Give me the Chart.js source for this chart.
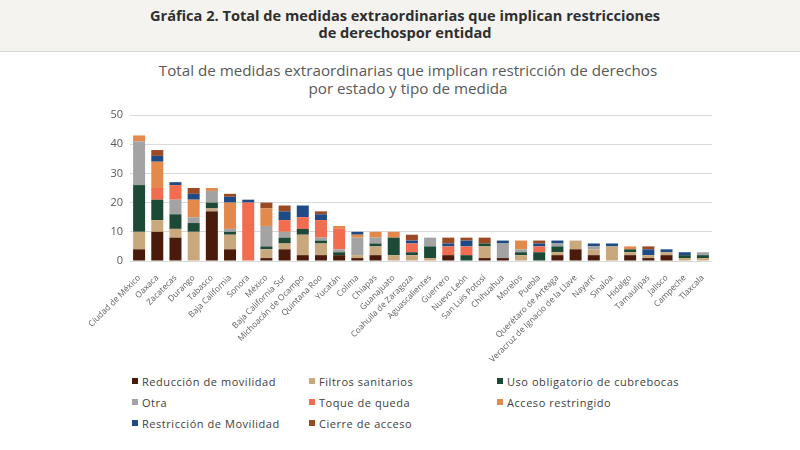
<!DOCTYPE html>
<html lang="es">
<head>
<meta charset="utf-8">
<title>Medidas extraordinarias por entidad</title>
<script src="https://cdn.jsdelivr.net/npm/chart.js@4.4.1/dist/chart.umd.min.js"></script>
<style>
    body {
        margin: 0;
        width: 800px;
        height: 450px;
        overflow: hidden;
        background: #ffffff;
        font-family: "Open Sans", "DejaVu Sans", sans-serif;
        position: relative;
    }
    #header {
        position: absolute;
        left: 0; top: 0;
        width: 800px; height: 52px;
        background: #f4f3ef;
        border-bottom: 1px solid #d6d6d6;
        text-align: center;
        font-weight: bold;
        font-size: 14.6px;
        line-height: 17px;
        color: #2f2f2f;
        padding-top: 7px;
        padding-left: 10px;
        box-sizing: border-box;
    }
    #chartTitle {
        position: absolute;
        left: 0; top: 61px;
        width: 816px;
        text-align: center;
        font-size: 15.2px;
        line-height: 18px;
        color: #595959;
    }
    #chartBox {
        position: absolute;
        left: 0; top: 0;
        width: 800px; height: 370px;
    }
    #legend {
        position: absolute;
        left: 132px; top: 373px;
        display: grid;
        grid-template-columns: 177px 188px 200px;
        row-gap: 5px;
        font-size: 11px;
        letter-spacing: 0.55px;
        color: #404040;
    }
    .legend-item { display: flex; align-items: center; height: 16px; white-space: nowrap; }
    .legend-item span.box { width: 6px; height: 6px; margin-right: 4px; display: inline-block; }
</style>
</head>
<body>
<div id="header">Gráfica 2. Total de medidas extraordinarias que implican restricciones<br>de derechospor entidad</div>
<div id="chartTitle">Total de medidas extraordinarias que implican restricción de derechos<br>por estado y tipo de medida</div>
<div id="chartBox"><canvas id="medidasChart" width="800" height="370"></canvas></div>
<div id="legend"></div>

<script>
// Entidades (orden del eje X)
const estados = [
    'Ciudad de México', 'Oaxaca', 'Zacatecas', 'Durango', 'Tabasco', 'Baja California',
    'Sonora', 'México', 'Baja California Sur', 'Michoacán de Ocampo', 'Quintana Roo',
    'Yucatán', 'Colima', 'Chiapas', 'Guanajuato', 'Coahuila de Zaragoza', 'Aguascalientes',
    'Guerrero', 'Nuevo León', 'San Luis Potosí', 'Chihuahua', 'Morelos', 'Puebla',
    'Querétaro de Arteaga', 'Veracruz de Ignacio de la Llave', 'Nayarit', 'Sinaloa',
    'Hidalgo', 'Tamaulipas', 'Jalisco', 'Campeche', 'Tlaxcala'
];

// Valores por tipo de medida
const reduccionMovilidad = [4, 10, 8, 0, 17, 4, 0, 1, 4, 2, 2, 2, 1, 2, 0, 0, 0, 2, 0, 1, 1, 0, 0, 2, 4, 2, 0, 2, 1, 2, 0, 0];
const filtrosSanitarios  = [6, 4, 3, 10, 1, 5, 0, 3, 2, 7, 4, 0, 1, 3, 2, 2, 1, 0, 0, 4, 0, 2, 0, 1, 3, 2, 5, 1, 1, 1, 1, 1];
const usoCubrebocas      = [16, 7, 5, 3, 2, 1, 0, 1, 2, 2, 1, 1, 0, 1, 6, 1, 4, 0, 2, 1, 0, 1, 3, 2, 0, 0, 0, 1, 0, 0, 1, 1];
const otra               = [15, 0, 5, 2, 4, 1, 0, 7, 2, 0, 1, 1, 6, 2, 0, 0, 3, 0, 0, 0, 5, 1, 0, 1, 0, 1, 0, 0, 0, 0, 0, 1];
const toqueDeQueda       = [0, 4, 5, 0, 0, 0, 20, 0, 4, 4, 6, 7, 0, 0, 0, 3, 0, 3, 3, 0, 0, 0, 2, 0, 0, 0, 0, 0, 0, 0, 0, 0];
const accesoRestringido  = [2, 9, 0, 6, 1, 9, 0, 6, 0, 0, 0, 1, 1, 2, 2, 0, 0, 0, 0, 0, 0, 3, 0, 0, 0, 0, 0, 1, 0, 0, 0, 0];
const restriccionMov     = [0, 2, 1, 2, 0, 2, 1, 0, 3, 4, 2, 0, 1, 0, 0, 1, 0, 1, 2, 0, 1, 0, 1, 1, 0, 1, 1, 0, 2, 1, 1, 0];
const cierreAcceso       = [0, 2, 0, 2, 0, 1, 0, 2, 2, 0, 1, 0, 0, 0, 0, 2, 0, 2, 1, 2, 0, 0, 1, 0, 0, 0, 0, 0, 1, 0, 0, 0];

const yTicks = { min: 0, max: 50, step: 5 };

// Series: etiqueta, datos, color
const series = [
    { label: 'Reducción de movilidad', data: reduccionMovilidad, color: '#4a1a0a' },
    { label: 'Filtros sanitarios', data: filtrosSanitarios, color: '#c9a87e' },
    { label: 'Uso obligatorio de cubrebocas', data: usoCubrebocas, color: '#1d4a37' },
    { label: 'Otra', data: otra, color: '#a3a3a3' },
    { label: 'Toque de queda', data: toqueDeQueda, color: '#f26c4f' },
    { label: 'Acceso restringido', data: accesoRestringido, color: '#e4894c' },
    { label: 'Restricción de Movilidad', data: restriccionMov, color: '#1f4a86' },
    { label: 'Cierre de acceso', data: cierreAcceso, color: '#9c4a24' }
];

// Function to build the HTML legend (3 columns)
function renderLegend() {
    const container = document.getElementById('legend');
    container.innerHTML = series.map(s =>
        `<div class="legend-item"><span class="box" style="background:${s.color}"></span>${s.label}</div>`
    ).join('');
}

// Function to render the stacked bar chart
function renderChart() {
    const ctx = document.getElementById('medidasChart').getContext('2d');

    new Chart(ctx, {
        type: 'bar',
        data: {
            labels: estados,
            datasets: series.map(s => ({
                label: s.label,
                data: s.data,
                backgroundColor: s.color,
                borderWidth: 0,
                barPercentage: 0.66,
                categoryPercentage: 1.0
            }))
        },
        options: {
            responsive: false,
            animation: false,
            layout: {
                padding: { left: 95, top: 115, right: 88, bottom: 0 }
            },
            plugins: {
                legend: { display: false },
                title: { display: false },
                tooltip: { enabled: false }
            },
            scales: {
                x: {
                    stacked: true,
                    grid: { display: false },
                    border: { display: false },
                    ticks: {
                        autoSkip: false,
                        minRotation: 45,
                        maxRotation: 45,
                        padding: 4,
                        color: '#606060',
                        font: { family: 'Open Sans', size: 8.4 }
                    },
                    afterFit: function(scale) {
                        scale.height = 109;
                    }
                },
                y: {
                    stacked: true,
                    min: yTicks.min,
                    max: yTicks.max,
                    border: { display: false },
                    grid: {
                        color: '#d9d9d9',
                        drawTicks: false
                    },
                    ticks: {
                        stepSize: yTicks.step,
                        padding: 7,
                        color: '#595959',
                        font: { family: 'Open Sans', size: 11 }
                    },
                    afterFit: function(scale) {
                        scale.width = 35;
                    }
                }
            }
        }
    });
}

window.addEventListener('DOMContentLoaded', () => {
    renderLegend();
    renderChart();
});
</script>
</body>
</html>
